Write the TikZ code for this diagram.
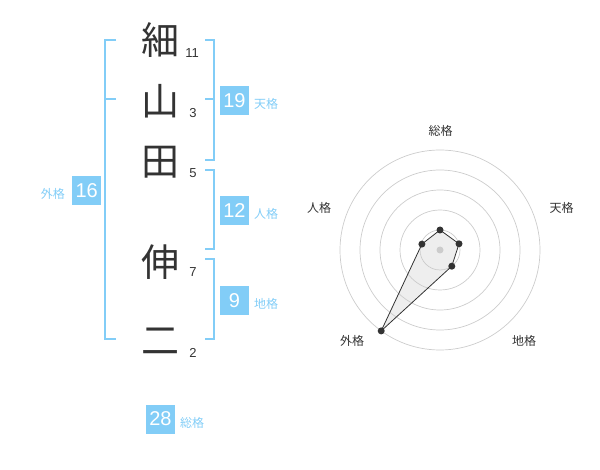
\documentclass[tikz,border=0pt]{standalone}
\usepackage{fontspec}
\setmainfont{Noto Sans CJK JP}
\newfontfamily\numfont{Liberation Sans}
\definecolor{kblue}{HTML}{82CDF7}
\definecolor{kdark}{HTML}{333333}
\definecolor{kgrid}{HTML}{CCCCCC}
\definecolor{kfill}{HTML}{DDDDDD}
\tikzset{
  kanji/.style={anchor=base, inner sep=0pt, font=\fontsize{38}{38}\selectfont, text=kdark},
  strokes/.style={anchor=base, inner sep=0pt, font=\numfont\fontsize{13}{13}\selectfont, text=kdark},
  bracket/.style={draw=kblue, line width=2pt},
  valbox/.style={fill=kblue, minimum width=29pt, minimum height=29pt, inner sep=0pt, text=white, font=\numfont\fontsize{20}{20}\selectfont},
  kaku/.style={inner sep=0pt, text=kblue, font=\fontsize{12}{12}\selectfont},
  radlabel/.style={inner sep=0pt, text=kdark, font=\fontsize{12}{12}\selectfont},
  grid/.style={draw=kgrid, line width=0.7pt},
  dot/.style={circle, fill=kdark, inner sep=0pt, minimum size=7pt},
  poly/.style={fill=kfill, fill opacity=0.5}
}
\begin{document}
\begin{tikzpicture}[x=1pt,y=-1pt]
\useasboundingbox (0,0) rectangle (600,470);
% name characters
\node[kanji] (c1) at (160,54.5) {細};
\node[kanji] (c2) at (160,115.5) {山};
\node[kanji] (c3) at (160,175.5) {田};
\node[kanji] (c4) at (160,276.5) {伸};
\node[kanji] (c5) at (160,354.5) {二};
% stroke counts
\node[strokes] (s1) at (192,58) {11};
\node[strokes] (s2) at (193,118) {3};
\node[strokes] (s3) at (193,178) {5};
\node[strokes] (s4) at (193,277) {7};
\node[strokes] (s5) at (193,358) {2};
% left bracket (gaikaku)
\coordinate (lt) at (105,40);
\coordinate (lm) at (105,99.3);
\coordinate (lb) at (105,339.3);
\draw[bracket] (116,40) -- (lt) -- (lb) -- (116,339.3);
\draw[bracket] (lm) -- (116,99.3);
% right brackets
\coordinate (tt) at (214.3,40);
\coordinate (tb) at (214.3,160);
\draw[bracket] (205,40) -- (tt) -- (tb) -- (205,160);
\draw[bracket] (205,99.3) -- (214.3,99.3);
\coordinate (jt) at (214.3,170);
\coordinate (jb) at (214.3,249.3);
\draw[bracket] (205,170) -- (jt) -- (jb) -- (205,249.3);
\coordinate (ct) at (214.3,259.3);
\coordinate (cb) at (214.3,339.3);
\draw[bracket] (205,259.3) -- (ct) -- (cb) -- (205,339.3);
% value boxes and labels
\node[valbox] (v19) at (234.5,100.5) {19};
\node[kaku, anchor=west] (l19) at (254,104) {天格};
\node[valbox] (v12) at (234.5,210.5) {12};
\node[kaku, anchor=west] (l12) at (254,213.5) {人格};
\node[valbox] (v9) at (234.5,300.5) {9};
\node[kaku, anchor=west] (l9) at (254,303.5) {地格};
\node[valbox] (v16) at (86.7,190.3) {16};
\node[kaku, anchor=east] (l16) at (65,194) {外格};
\node[valbox] (v28) at (160.5,419) {28};
\node[kaku, anchor=west] (l28) at (180,422.5) {総格};
% radar chart
\coordinate (rc) at (440,250);
\coordinate (pa) at (440,230);
\coordinate (pb) at (459.0,243.8);
\coordinate (pc) at (451.8,266.2);
\coordinate (pd) at (381.2,330.9);
\coordinate (pe) at (421.9,244.1);
\fill[poly] (pa) -- (pb) -- (pc) -- (pd) -- (pe) -- cycle;
\foreach \r in {20,40,60,80,100} \draw[grid] (rc) circle (\r pt);
\node[dot, fill=kgrid] (rcd) at (rc) {};
\draw[draw=kdark, line width=0.8pt] (pa) -- (pb) -- (pc) -- (pd) -- (pe) -- cycle;
\foreach \p in {pa,pb,pc,pd,pe} \node[dot] at (\p) {};
\node[radlabel] (r1) at (440.7,130.7) {総格};
\node[radlabel] (r2) at (561.7,208.3) {天格};
\node[radlabel] (r3) at (524,341) {地格};
\node[radlabel] (r4) at (352,341) {外格};
\node[radlabel] (r5) at (319,208.3) {人格};
\end{tikzpicture}
\end{document}
